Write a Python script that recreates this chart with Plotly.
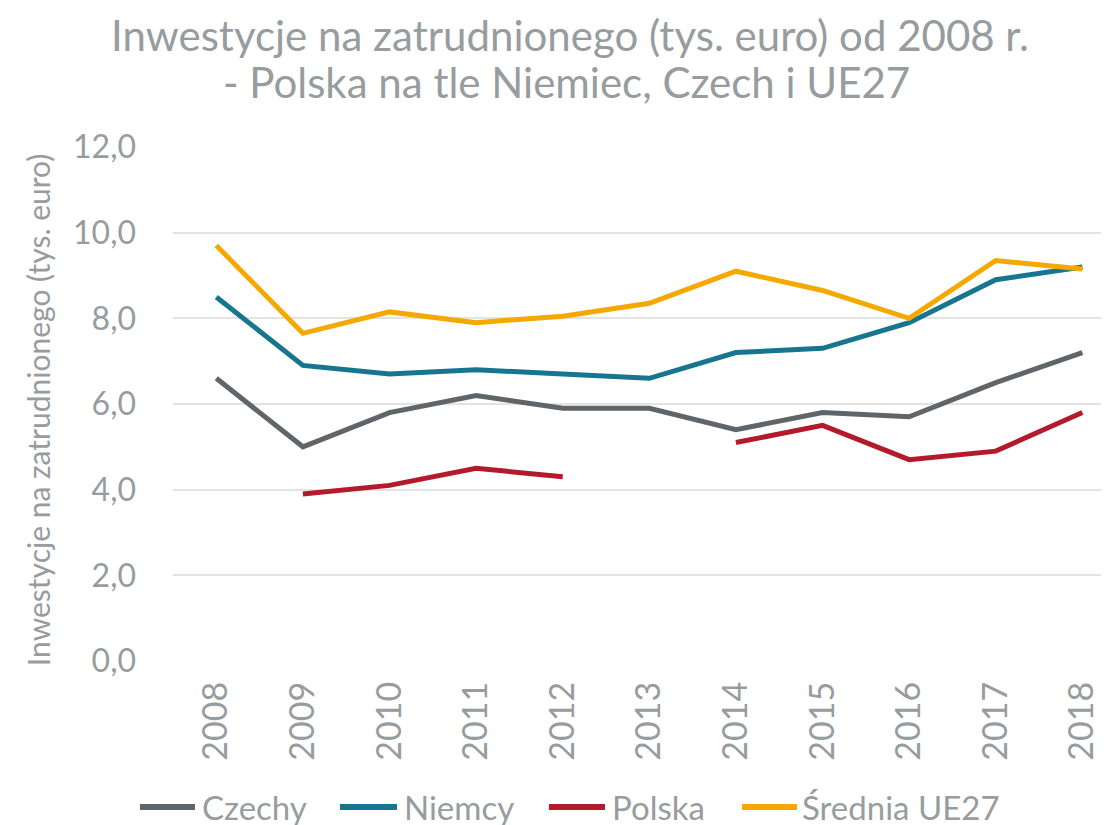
import plotly.graph_objects as go

years = ["2008", "2009", "2010", "2011", "2012", "2013", "2014", "2015", "2016", "2017", "2018"]
czechy = [6.6, 5.0, 5.8, 6.2, 5.9, 5.9, 5.4, 5.8, 5.7, 6.5, 7.2]
niemcy = [8.5, 6.9, 6.7, 6.8, 6.7, 6.6, 7.2, 7.3, 7.9, 8.9, 9.2]
polska = [None, 3.9, 4.1, 4.5, 4.3, None, 5.1, 5.5, 4.7, 4.9, 5.8]
ue27 = [9.7, 7.65, 8.15, 7.9, 8.05, 8.35, 9.1, 8.65, 8.0, 9.35, 9.15]

names = ["Czechy", "Niemcy", "Polska", "Średnia UE27"]
colors = ["#5f6569", "#17758f", "#b31b2c", "#f5a800"]
values = [czechy, niemcy, polska, ue27]

title_line1 = "Inwestycje na zatrudnionego (tys. euro) od 2008 r."
title_line2 = "- Polska na tle Niemiec, Czech i UE27"
y_title = "Inwestycje na zatrudnionego (tys. euro)"

FONT = "Lato"
GREY = "#979c9e"

# legend layout (paper x of line start, line end, text start)
legend_pos = [(-0.035, 0.0233, 0.0286), (0.1769, 0.2373, 0.2426),
              (0.3983, 0.4576, 0.4629), (0.6028, 0.6610, 0.6642)]
LEG_Y = -0.284

fig = go.Figure()
for name, vals, col in zip(names, values, colors):
    fig.add_trace(go.Scatter(
        x=list(range(len(years))), y=vals, name=name, mode="lines",
        line=dict(color=col, width=5), connectgaps=False, showlegend=False,
    ))

shapes = []
annotations = [
    dict(text=title_line1, xref="paper", yref="paper", x=0.4206, y=1.2695,
         xanchor="center", yanchor="top", showarrow=False,
         font=dict(size=42, color=GREY, family=FONT)),
    dict(text=title_line2, xref="paper", yref="paper", x=0.417, y=1.1255,
         xanchor="center", yanchor="middle", showarrow=False,
         font=dict(size=42, color=GREY, family=FONT)),
    dict(text=y_title, xref="paper", yref="paper", x=-0.143, y=0.488,
         xanchor="center", yanchor="middle", showarrow=False, textangle=-90,
         font=dict(size=30, color=GREY, family=FONT)),
]
for name, col, (x0, x1, xt) in zip(names, colors, legend_pos):
    shapes.append(dict(type="line", xref="paper", yref="paper", x0=x0, x1=x1,
                       y0=LEG_Y, y1=LEG_Y, line=dict(color=col, width=6)))
    annotations.append(dict(text=name, xref="paper", yref="paper", x=xt, y=LEG_Y,
                            xanchor="left", yanchor="middle", showarrow=False,
                            font=dict(size=33, color=GREY, family=FONT)))

fig.update_layout(
    width=1109, height=825,
    paper_bgcolor="white", plot_bgcolor="white",
    margin=dict(l=165, r=0, t=139, b=172, autoexpand=False),
    font=dict(family=FONT, color=GREY),
    separators=", ",
    showlegend=False,
    xaxis=dict(
        range=[-0.5, 10.4], automargin=False,
        tickmode="array", tickvals=list(range(len(years))), ticktext=years,
        tickangle=-90, tickfont=dict(size=34, color=GREY),
        ticklabelstandoff=13,
        showgrid=False, zeroline=False, showline=False, ticks="",
    ),
    yaxis=dict(
        range=[0, 12], dtick=2, tickformat=".1f", automargin=False,
        tickfont=dict(size=32, color=GREY),
        ticklabelstandoff=36,
        showgrid=True, gridcolor="#e3e3e3", gridwidth=2,
        zeroline=False, showline=False, ticks="",
    ),
    shapes=shapes,
    annotations=annotations,
)
fig.write_html("out.html")
